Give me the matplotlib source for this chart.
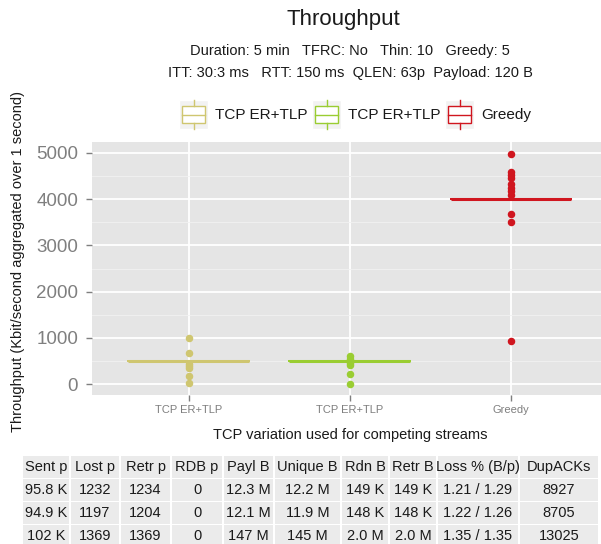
import matplotlib
matplotlib.use('Agg')
import matplotlib.pyplot as plt
from matplotlib.patches import Rectangle

plt.rcParams['font.family'] = ['Liberation Sans', 'DejaVu Sans']

# data
groups = ['TCP ER+TLP', 'TCP ER+TLP', 'Greedy']
colors = ['#CFC670', '#9ACD32', '#D0161F']
medians = [505, 505, 4010]
outliers = [
    [995, 675, 440, 390, 340, 180, 20],
    [600, 550, 460, 420, 215, 15],
    [4980, 4590, 4530, 4460, 4330, 4250, 4170, 4080, 3680, 3510, 940],
]

table_header = ['Sent p', 'Lost p', 'Retr p', 'RDB p', 'Payl B', 'Unique B',
                'Rdn B', 'Retr B', 'Loss % (B/p)', 'DupACKs']
table_rows = [
    ['95.8 K', '1232', '1234', '0', '12.3 M', '12.2 M', '149 K', '149 K', '1.21 / 1.29', '8927'],
    ['94.9 K', '1197', '1204', '0', '12.1 M', '11.9 M', '148 K', '148 K', '1.22 / 1.26', '8705'],
    ['102 K', '1369', '1369', '0', '147 M', '145 M', '2.0 M', '2.0 M', '1.35 / 1.35', '13025'],
]

W, H = 601, 544
fig = plt.figure(figsize=(W / 100, H / 100), dpi=100)

# main panel (ggplot-like)
ax = fig.add_axes([92 / W, 1 - 395 / H, (607.6 - 92) / W, (395 - 142.3) / H])
ax.set_facecolor('#E5E5E5')
for s in ax.spines.values():
    s.set_visible(False)

stats = []
for m, out in zip(medians, outliers):
    stats.append(dict(med=m, q1=m, q3=m, whislo=m, whishi=m, fliers=out))
bp = ax.bxp(stats, positions=[1, 2, 3], widths=0.75, patch_artist=False,
            showcaps=False, manage_ticks=False)
for i, c in enumerate(colors):
    bp['boxes'][i].set(color=c, linewidth=1.2)
    bp['medians'][i].set(color=c, linewidth=2.2, solid_capstyle='butt')
    bp['whiskers'][2 * i].set(color=c)
    bp['whiskers'][2 * i + 1].set(color=c)
    bp['fliers'][i].set(marker='o', markerfacecolor=c, markeredgecolor=c,
                        markersize=4.4, linestyle='none')

allv = [v for o in outliers for v in o] + medians
lo, hi = min(allv), max(allv)
pad = (hi - lo) * 0.05
ax.set_ylim(lo - pad, hi + pad)
ax.set_xlim(0.4, 3.6)

ax.set_yticks([0, 1000, 2000, 3000, 4000, 5000])
ax.set_yticks([500, 1500, 2500, 3500, 4500], minor=True)
ax.set_xticks([1, 2, 3])
ax.set_xticklabels(groups)
ax.grid(True, which='major', color='white', linewidth=1.3)
ax.grid(True, which='minor', axis='y', color='#F2F2F2', linewidth=0.6)
ax.set_axisbelow(True)
ax.tick_params(which='major', color='#7F7F7F', length=4, width=1)
ax.tick_params(which='minor', length=0)
ax.tick_params(axis='y', labelsize=13.5, labelcolor='#7F7F7F', pad=6)
ax.tick_params(axis='x', labelsize=8, labelcolor='#7F7F7F', pad=3)

# overlay in pixel coordinates for titles, legend and table
ov = fig.add_axes([0, 0, 1, 1], facecolor='none')
ov.set_xlim(0, W)
ov.set_ylim(H, 0)
ov.axis('off')

ov.text(343, 20, 'Throughput', ha='center', va='center', fontsize=16, color='#1A1A1A')
ov.text(350, 51, 'Duration: 5 min   TFRC: No   Thin: 10   Greedy: 5',
        ha='center', va='center', fontsize=10.5, color='#1A1A1A')
ov.text(350, 73, 'ITT: 30:3 ms   RTT: 150 ms  QLEN: 63p  Payload: 120 B',
        ha='center', va='center', fontsize=10.5, color='#1A1A1A')
ov.text(18, 262, 'Throughput (Kbit/second aggregated over 1 second)', rotation=90,
        ha='center', va='center', fontsize=10.5, color='#1A1A1A')
ov.text(350, 435, 'TCP variation used for competing streams',
        ha='center', va='center', fontsize=10.5, color='#1A1A1A')

# legend
key_x = [179, 312, 445]
for kx, c, g in zip(key_x, colors, groups):
    ov.add_patch(Rectangle((kx, 100), 29, 29, facecolor='#F2F2F2', edgecolor='white'))
    ov.add_patch(Rectangle((kx + 3, 106), 23, 17, facecolor='white', edgecolor=c, linewidth=1))
    ov.plot([kx + 3, kx + 26], [114.5, 114.5], color=c, linewidth=1)
    ov.plot([kx + 14.5, kx + 14.5], [100, 106], color=c, linewidth=1)
    ov.plot([kx + 14.5, kx + 14.5], [123, 129], color=c, linewidth=1)
    ov.text(kx + 36, 115, g, ha='left', va='center', fontsize=11, color='#1A1A1A')

# table
col_edges = [22, 70, 120, 171, 223, 274, 341, 389, 437, 519, 599]
row_y = [467, 490, 513, 536]
row_h = 22
for r, cells in enumerate([table_header] + table_rows):
    for j, txt in enumerate(cells):
        x0, x1 = col_edges[j], col_edges[j + 1]
        ov.add_patch(Rectangle((x0 + 1, row_y[r] - row_h / 2), x1 - x0 - 2, row_h,
                               facecolor='#EBEBEB', edgecolor='none'))
        ov.text((x0 + x1) / 2, row_y[r], txt, ha='center', va='center',
                fontsize=10.5, color='#1A1A1A')

fig.savefig('out.png', dpi=100)
